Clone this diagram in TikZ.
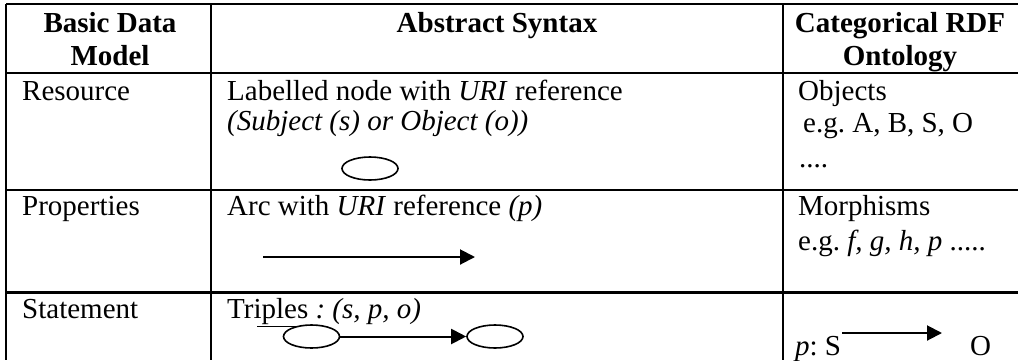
\documentclass[tikz,border=0pt]{standalone}
\usepackage{fontspec}
\setmainfont{Liberation Serif}
\usetikzlibrary{arrows.meta,shapes.geometric}
\frenchspacing
\begin{document}
\begin{tikzpicture}[x=1pt,y=-1pt,
  txt/.style={inner sep=0pt,anchor=base west,font=\fontsize{29}{33}\selectfont},
  head/.style={inner sep=0pt,anchor=base,font=\fontsize{29}{33}\selectfont\bfseries},
  rule/.style={line width=2.4pt},
  rnode/.style={draw,ellipse,line width=1.6pt,inner sep=0pt,minimum width=56pt,minimum height=23pt},
  arc/.style={line width=2pt,-{Triangle[length=15pt,width=15pt]}}]
\useasboundingbox (0,0) rectangle (1018,360);

% grid of the table
\draw[rule] (6,4) -- (1018,4);
\draw[rule] (6,73) -- (1018,73);
\draw[rule] (6,190) -- (1018,190);
\draw[rule] (6,292.5) -- (1018,292.5);
\draw[rule] (6,4) -- (6,360);
\draw[rule] (211,4) -- (211,360);
\draw[rule] (783,4) -- (783,360);

% header
\node[head] (h1a) at (110,32) {Basic Data};
\node[head] (h1b) at (110,65) {Model};
\node[head] (h2) at (497,32) {Abstract Syntax};
\node[head] (h3a) at (900,32) {Categorical RDF};
\node[head] (h3b) at (900,65) {Ontology};

% row: resource
\node[txt] (res) at (22,100) {Resource};
\node[txt] (lab) at (227,100) {Labelled node with \textit{URI} reference};
\node[txt] (subj) at (227,130) {\textit{(Subject (s) or Object (o))}};
\node[rnode] (n0) at (370,168.5) {};
\node[txt] (obj) at (798,100) {Objects};
\node[txt] (objeg) at (803,132) {e.g. A, B, S, O};
\node[txt] (objdots) at (799,167) {....};

% row: properties
\node[txt] (prop) at (22,215) {Properties};
\node[txt] (arcw) at (227,215) {Arc with \textit{URI} reference \textit{(p)}};
\coordinate (a0) at (263,257);
\coordinate (a1) at (475,257);
\draw[arc] (a0) -- (a1);
\node[txt] (mor) at (798,215) {Morphisms};
\node[txt] (moreg) at (798,250) {e.g. \textit{f, g, h, p} .....};

% row: statement
\node[txt] (stmt) at (22,318) {Statement};
\node[txt] (trip) at (227,318) {Triples \textit{: (s, p, o)}};
\draw[line width=1.3pt] (257,326.5) -- (300,326.5);
\node[rnode] (ns) at (311.5,336.5) {};
\node[rnode] (no) at (495,336.5) {};
\draw[arc] (ns) -- (no);
\node[txt] (ps) at (795,355) {\textit{p}: S};
\node[txt] (po) at (970,355) {O};
\coordinate (m0) at (842,333);
\coordinate (m1) at (942,333);
\draw[arc] (m0) -- (m1);
\end{tikzpicture}
\end{document}
